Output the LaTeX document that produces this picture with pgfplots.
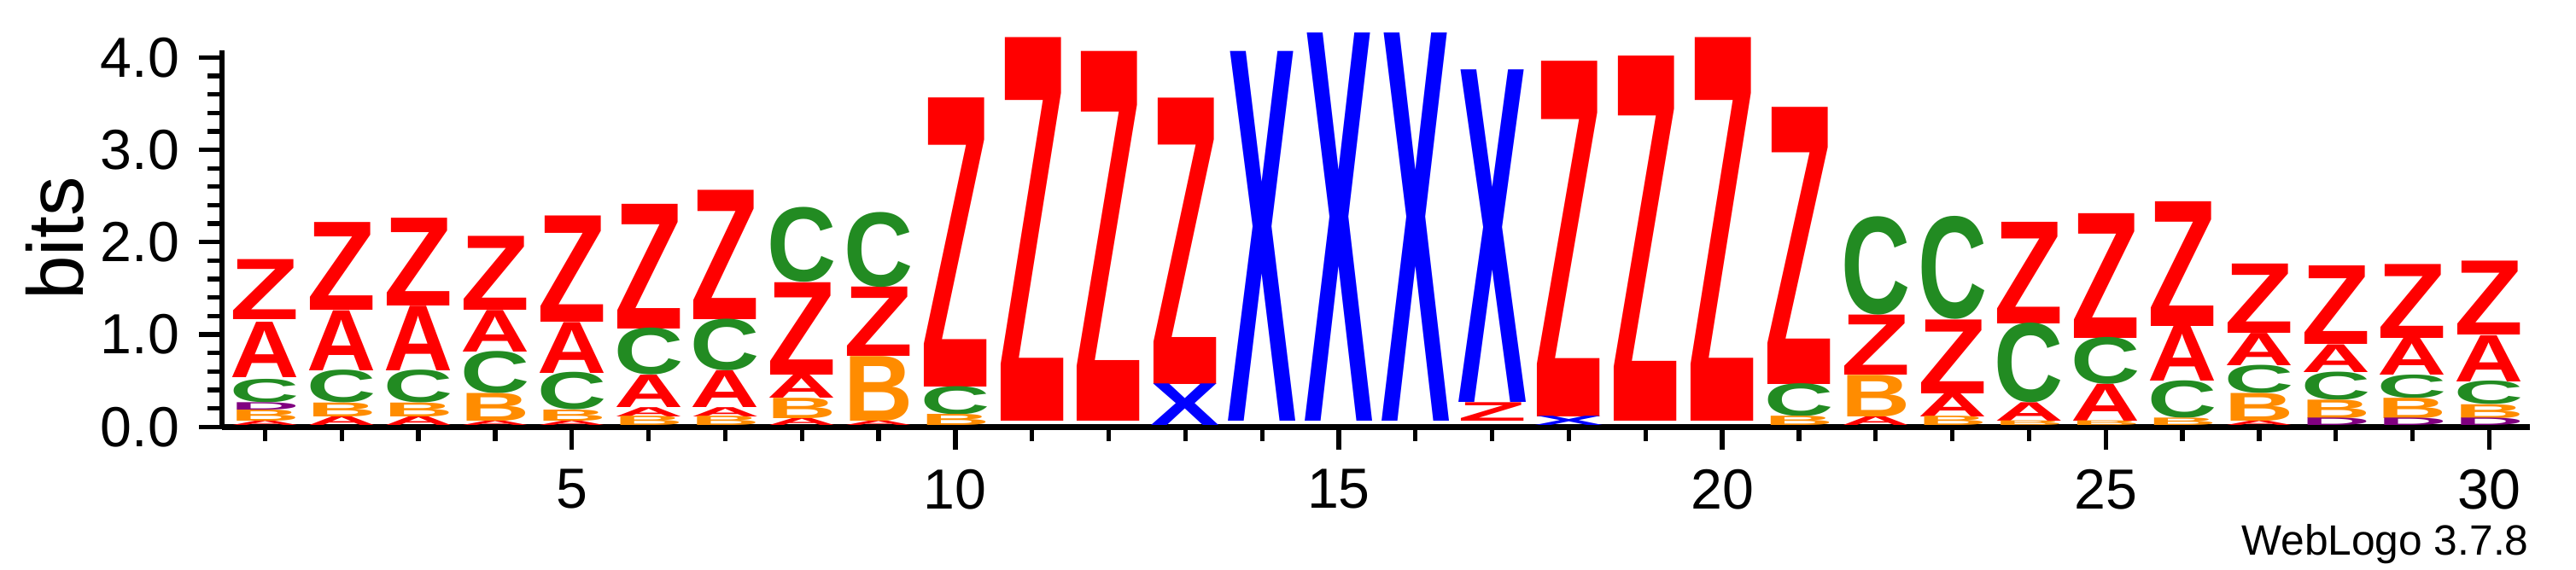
\documentclass[border=0pt]{standalone}
\usepackage{fontspec}
\setmainfont{Liberation Sans}
\usepackage{pgfplots}
\usepackage{pgfplotstable}
\usepackage{graphicx}
\pgfplotsset{compat=1.18}
\usetikzlibrary{calc}
\definecolor{lred}{RGB}{255,0,0}
\definecolor{lgreen}{RGB}{34,139,34}
\definecolor{lblue}{RGB}{0,0,255}
\definecolor{lorange}{RGB}{255,140,0}
\definecolor{lpurple}{RGB}{128,0,128}
\pgfplotstableread{
x b h
1 1.15 .65
2 1.25 .95
3 1.3 .95
4 1.25 .8
5 1.12 1.15
6 1.05 1.35
7 1.15 1.4
8 .55 1.0
9 .75 .75
10 .42 3.13
11 .05 4.15
12 .05 4.0
13 .45 3.1
17 .05 .2
18 .1 3.85
19 .05 3.95
20 .05 4.15
21 .45 3.0
22 .55 .65
23 .35 .8
24 1.1 1.1
25 .95 1.35
26 1.08 1.35
27 1.0 .75
28 .88 .85
29 .95 .8
30 .98 .8
}\tZ
\pgfplotstableread{
x b h
1 0 .05
1 .52 .6
2 0 .1
2 .6 .65
3 0 .1
3 .6 .7
4 0 .05
4 .8 .45
5 0 .05
5 .57 .55
6 .1 .1
6 .2 .35
7 .1 .1
7 .2 .4
8 0 .08
8 .3 .25
9 0 .05
22 0 .1
23 .1 .25
24 .05 .2
25 .05 .4
26 .48 .6
27 0 .05
27 .65 .35
28 .58 .3
29 .55 .4
30 .48 .5
}\tA
\pgfplotstableread{
x b h
1 .25 .25
2 .25 .35
3 .25 .35
4 .35 .45
5 .17 .4
6 .55 .5
7 .6 .55
8 1.55 .8
9 1.5 .8
10 .12 .3
21 .1 .35
22 1.2 1.05
23 1.15 1.1
24 .25 .85
25 .45 .5
26 .08 .4
27 .35 .3
28 .28 .3
29 .3 .25
30 .23 .25
}\tC
\pgfplotstableread{
x b h
1 .05 .12
2 .1 .15
3 .1 .15
4 .05 .3
5 .05 .12
6 0 .1
7 0 .1
8 .08 .22
9 .05 .7
10 0 .12
21 0 .1
22 .1 .45
23 0 .1
24 0 .05
25 0 .05
26 0 .08
27 .05 .3
28 .08 .2
29 .08 .22
30 .08 .15
}\tB
\pgfplotstableread{
x b h
1 .17 .08
28 0 .08
29 0 .08
30 0 .08
}\tD
\pgfplotstableread{
x b h
13 0 .45
14 .05 4.0
15 .05 4.2
16 .05 4.2
17 .25 3.6
18 0 .1
}\tX
\newcommand\logo[3]{\addplot[only marks, mark=none,
  visualization depends on={0.574*\thisrow{h}\as\hh},
  nodes near coords={\resizebox{0.43cm}{\hh cm}{\bfseries #2}},
  every node near coord/.append style={anchor=south,inner sep=0pt,text=#3}]
  table[x=x,y=b]{#1};}
\begin{document}
\begin{tikzpicture}
\begin{axis}[name=ax, x=0.4763cm, y=0.574cm,
  xmin=0.437, xmax=30.53, ymin=0, ymax=4.08,
  axis x line=bottom, axis y line=left, axis line style={-, line width=1pt},
  clip=false, tick align=outside,
  xtick={5,10,...,30}, minor xtick={1,...,30},
  ytick={0,1,2,3,4}, minor ytick={0.2,0.4,...,4},
  major tick length=4pt, minor tick length=2.5pt,
  every tick/.style={black, line width=0.8pt},
  yticklabel style={/pgf/number format/.cd, fixed, fixed zerofill, precision=1},
  /pgf/number format/assume math mode=true,
  tick label style={font=\fontsize{10}{11}\selectfont},
  ylabel={bits}, ylabel style={font=\fontsize{14}{15}\selectfont, yshift=-4pt},
]
\logo{\tZ}{Z}{lred}
\logo{\tA}{A}{lred}
\logo{\tC}{C}{lgreen}
\logo{\tB}{B}{lorange}
\logo{\tD}{D}{lpurple}
\logo{\tX}{X}{lblue}
\end{axis}
\node[anchor=north east, font=\fontsize{7.5}{8}\selectfont, inner sep=0pt] at ($(ax.south east)+(0,-0.6)$) {WebLogo 3.7.8};
\useasboundingbox ($(ax.south west)+(-1.378,-0.888)$) rectangle ($(ax.south west)+(14.62,2.653)$);
\end{tikzpicture}
\end{document}
